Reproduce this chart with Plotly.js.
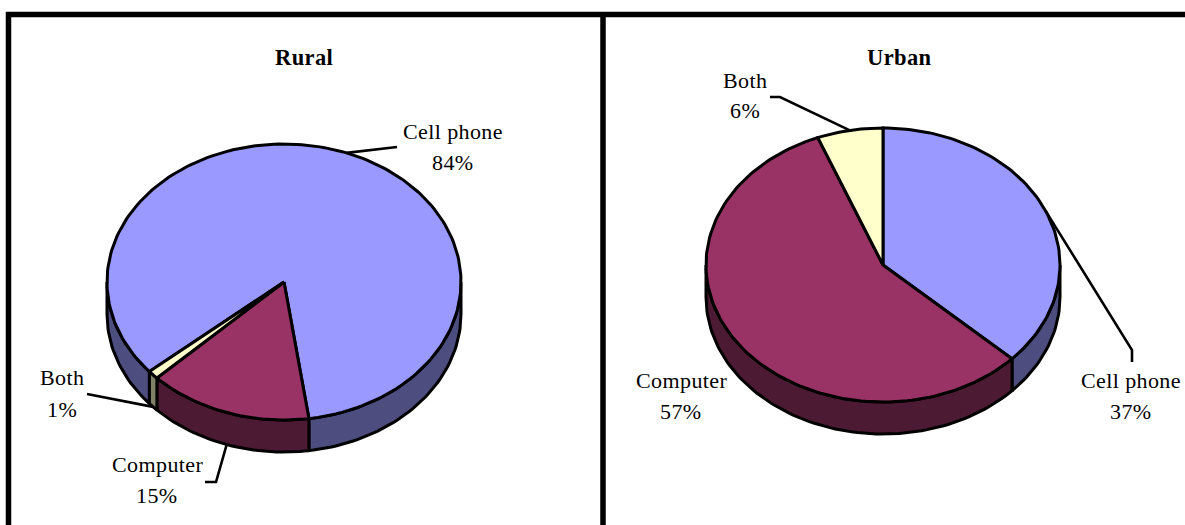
<!DOCTYPE html>
<html>
<head>
<meta charset="utf-8">
<script src="https://cdn.plot.ly/plotly-3.0.1.min.js"></script>
<style>
html, body { margin: 0; padding: 0; background: #fff; overflow: hidden; }
#chart { width: 1185px; height: 525px; }
.annotation-text { letter-spacing: 0.4px; }
</style>
</head>
<body>
<div id="chart"></div>
<script>
// Device ownership shares, in percent
const categories = ["Cell phone", "Computer", "Both"];
const ruralShares = [84, 15, 1];
const urbanShares = [37, 57, 6];

// Slice appearance, in category order
const topColors = ["#9999ff", "#993366", "#ffffcc"];
const wallColors = ["#4d4d80", "#4d1a33", "#808066"];

// Panel geometry on a 1185 x 525 coordinate plane
const panels = [
  {
    title: "Rural", shares: ruralShares, firstAngle: 229.5,
    cx: 284, cy: 282, rx: 177, ry: 138, depth: 32, titleX: 304,
    labels: [[453, 131, 162], [157, 464, 495], [62, 377, 409]],
    elbows: [[[397, 147]], [[216, 482], [205, 482]], [[100, 396], [87, 394]]]
  },
  {
    title: "Urban", shares: urbanShares, firstAngle: 0,
    cx: 883, cy: 265, rx: 177, ry: 137, depth: 32, titleX: 899,
    labels: [[1131, 380, 411], [681, 380, 411], [745, 80, 110]],
    elbows: [[[1132, 350], [1132, 362]], null, [[780, 97], [770, 97]]]
  }
];
const titleY = 57;
const outline = { color: "#000", width: 3 };
const serif = "'Liberation Serif', 'Times New Roman', serif";

// Rim point for an angle measured clockwise from twelve o'clock
function rim(p, deg, drop) {
  const t = deg * Math.PI / 180;
  return [p.cx + p.rx * Math.sin(t), p.cy - p.ry * Math.cos(t) + (drop || 0)];
}

function arc(p, from, to, drop) {
  const pts = [];
  const steps = Math.max(2, Math.ceil(Math.abs(to - from) / 1.5));
  for (let i = 0; i <= steps; i++) pts.push(rim(p, from + (to - from) * i / steps, drop));
  return pts;
}

function polygon(pts, color, line) {
  return {
    type: "scatter", mode: "lines", fill: "toself", fillcolor: color,
    x: pts.map(q => q[0]), y: pts.map(q => q[1]),
    line: line || outline, hoverinfo: "skip", showlegend: false
  };
}

function pathLine(pts) {
  return {
    type: "scatter", mode: "lines",
    x: pts.map(q => q[0]), y: pts.map(q => q[1]),
    line: { color: "#000", width: 2.6 }, hoverinfo: "skip", showlegend: false
  };
}

// Part of a slice's angular span that lies on the near half of the pie
function nearSpans(a, b) {
  const spans = [];
  for (const shift of [-360, 0, 360]) {
    const lo = Math.max(a, 90 + shift), hi = Math.min(b, 270 + shift);
    if (hi > lo) spans.push([lo, hi]);
  }
  return spans;
}

const traces = [];
const annotations = [];

function text(x, y, str, bold) {
  annotations.push({
    x, y, xref: "x", yref: "y", text: bold ? "<b>" + str + "</b>" : str,
    showarrow: false, xanchor: "center", yanchor: "middle",
    font: { family: serif, size: bold ? 22.5 : 22, color: "#000" }
  });
}

panels.forEach(p => {
  const total = p.shares.reduce((s, v) => s + v, 0);
  let angle = p.firstAngle;
  const slices = p.shares.map((v, i) => {
    const start = angle;
    angle += v / total * 360;
    return { i, v, start, end: angle, mid: (start + angle) / 2 };
  });

  // Side walls first, so that the top faces cover their upper edges
  slices.forEach(s => {
    nearSpans(s.start, s.end).forEach(([lo, hi]) => {
      const pts = arc(p, lo, hi, 0).concat(arc(p, hi, lo, p.depth));
      pts.push(pts[0]);
      traces.push(polygon(pts, wallColors[s.i]));
    });
  });

  slices.forEach(s => {
    const pts = [[p.cx, p.cy]].concat(arc(p, s.start, s.end, 0));
    pts.push([p.cx, p.cy]);
    traces.push(polygon(pts, topColors[s.i]));
  });

  // Leader lines leave the rim at each slice's middle angle
  slices.forEach(s => {
    const elbow = p.elbows[s.i];
    if (elbow) {
      const m = ((s.mid % 360) + 360) % 360;
      const near = m > 90 && m < 270;
      traces.push(pathLine([rim(p, s.mid, near ? p.depth : 0)].concat(elbow)));
    }
    const [lx, y1, y2] = p.labels[s.i];
    text(lx, y1, categories[s.i]);
    text(lx, y2, s.v + "%");
  });

  text(p.titleX, titleY, p.title, true);
});

// Panel frame: top rule plus the left and centre dividers
const rule = { color: "#000", width: 5.5 };
const frame = [
  { type: "line", xref: "x", yref: "y", x0: 6, x1: 1185, y0: 14.5, y1: 14.5, line: rule },
  { type: "line", xref: "x", yref: "y", x0: 8.5, x1: 8.5, y0: 12, y1: 525, line: rule },
  { type: "line", xref: "x", yref: "y", x0: 603, x1: 603, y0: 12, y1: 525, line: rule }
];

const hidden = { visible: false, showgrid: false, zeroline: false, fixedrange: true };

Plotly.newPlot("chart", traces, {
  width: 1185, height: 525,
  margin: { l: 0, r: 0, t: 0, b: 0 },
  paper_bgcolor: "#fff", plot_bgcolor: "#fff",
  showlegend: false,
  xaxis: Object.assign({ range: [0, 1185] }, hidden),
  yaxis: Object.assign({ range: [525, 0] }, hidden),
  shapes: frame,
  annotations
}, { displayModeBar: false, staticPlot: true });
</script>
</body>
</html>
